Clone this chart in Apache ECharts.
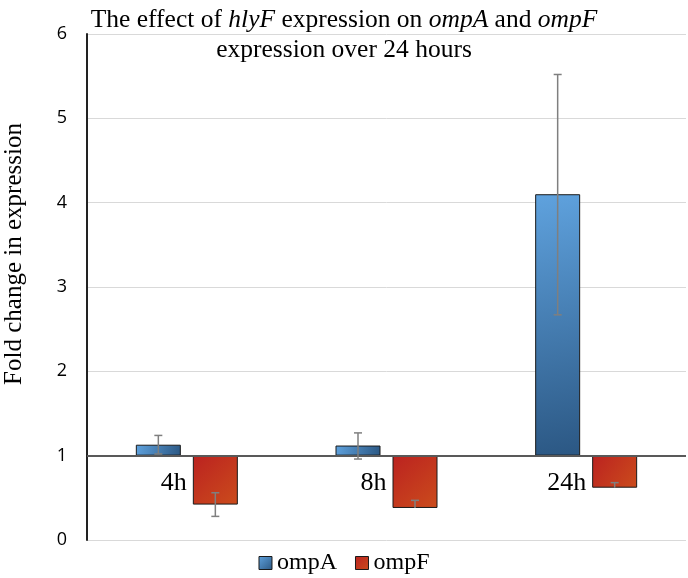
<!DOCTYPE html>
<html>
<head>
<meta charset="utf-8">
<script src="https://cdn.jsdelivr.net/npm/echarts@6/dist/echarts.min.js"></script>
<style>
html,body{margin:0;padding:0;background:#fff;}
#chart{width:688px;height:578px;}
</style>
</head>
<body>
<div id="chart"></div>
<script>
// ---- data ----
const categories = ['4h', '8h', '24h'];
const ompA = [1.13, 1.12, 4.10];
const ompF = [0.42, 0.38, 0.62];
const ompAErrPlus = [0.11, 0.15, 1.42];
const ompAErrMinus = [0.11, 0.16, 1.43];
const ompFErrPlus = [0.14, 0.09, 0.06];
const ompFErrMinus = [0.14, 0, 0];
const baseline = 1;
const yMin = 0, yMax = 6, yInterval = 1;

// ---- styling ----
const BAR_W = 45, BAR_GAP = 12;
const serif = 'Liberation Serif';
const colA = new echarts.graphic.LinearGradient(0, 0, 1, 1, [
  { offset: 0, color: '#5fa2de' }, { offset: 1, color: '#2b5783' }]);
const colF = new echarts.graphic.LinearGradient(0, 0, 1, 1, [
  { offset: 0, color: '#bb2220' }, { offset: 1, color: '#cb4c1c' }]);

function baseOf(arr) { return arr.map(v => Math.min(v, baseline)); }
function diffOf(arr) { return arr.map(v => Math.abs(v - baseline)); }

const errData = [];
categories.forEach((c, i) => {
  errData.push([i, ompA[i] - ompAErrMinus[i], ompA[i] + ompAErrPlus[i], -1, ompAErrMinus[i] > 0 ? 1 : 0]);
  errData.push([i, ompF[i] - ompFErrMinus[i], ompF[i] + ompFErrPlus[i], 1, ompFErrMinus[i] > 0 ? 1 : 0]);
});

const chart = echarts.init(document.getElementById('chart'));
chart.setOption({
  animation: false,
  backgroundColor: '#fff',
  title: {
    left: 'center', top: 0,
    text: '{n|The effect of }{i|hlyF}{n| expression on }{i|ompA}{n| and }{i|ompF}\n{n|expression over 24 hours}',
    textStyle: {
      fontWeight: 'normal',
      rich: {
        n: { fontFamily: serif, fontSize: 25.5, fontWeight: 'normal', color: '#000', lineHeight: 30 },
        i: { fontFamily: serif, fontSize: 25.5, fontWeight: 'normal', fontStyle: 'italic', color: '#000', lineHeight: 30 }
      }
    }
  },
  legend: {
    top: 546, left: 'center', itemWidth: 13, itemHeight: 13, itemGap: 18, icon: 'rect',
    textStyle: { fontFamily: serif, fontSize: 24, color: '#000' },
    data: [
      { name: 'ompA', itemStyle: { color: colA, borderColor: '#1a1a1a', borderWidth: 1 } },
      { name: 'ompF', itemStyle: { color: colF, borderColor: '#1a1a1a', borderWidth: 1 } }
    ]
  },
  grid: { left: 87, right: 2, top: 34, bottom: 38, containLabel: false, outerBoundsMode: 'none' },
  xAxis: {
    type: 'category', data: categories,
    axisLine: { show: false }, axisTick: { show: false }, splitLine: { show: false },
    axisLabel: { margin: -70, align: 'right', fontFamily: serif, fontSize: 26, color: '#000' }
  },
  yAxis: {
    type: 'value', min: yMin, max: yMax, interval: yInterval,
    name: 'Fold change in expression', nameLocation: 'middle', nameGap: 60, nameRotate: 90,
    nameTextStyle: { fontFamily: serif, fontSize: 25, color: '#000', padding: [0, 0, 0, 66] },
    axisLine: { show: true, lineStyle: { color: '#222', width: 2 } },
    axisTick: { show: false },
    axisLabel: { margin: 20, fontFamily: 'Open Sans', fontSize: 18, color: '#000' },
    splitLine: { lineStyle: { color: '#d9d9d9', width: 1 } }
  },
  series: [
    { name: 'baseA', type: 'bar', stack: 'a', barWidth: BAR_W, data: baseOf(ompA),
      itemStyle: { color: 'transparent' }, silent: true },
    { name: 'ompA', type: 'bar', stack: 'a', barWidth: BAR_W, data: diffOf(ompA),
      itemStyle: { color: colA, borderColor: '#1a1a1a', borderWidth: 1 },
      markLine: { silent: true, symbol: 'none', label: { show: false },
        lineStyle: { color: '#595959', width: 2, type: 'solid' }, data: [{ yAxis: baseline }] } },
    { name: 'baseF', type: 'bar', stack: 'f', barWidth: BAR_W, data: baseOf(ompF),
      itemStyle: { color: 'transparent' }, silent: true },
    { name: 'ompF', type: 'bar', stack: 'f', barWidth: BAR_W, barGap: (BAR_GAP / BAR_W * 100) + '%', data: diffOf(ompF),
      itemStyle: { color: colF, borderColor: '#1a1a1a', borderWidth: 1 } },
    { name: 'err', type: 'custom', data: errData, z: 10, silent: true,
      encode: { x: 0, y: [1, 2] },
      renderItem: function (params, api) {
        const i = api.value(0), lo = api.value(1), hi = api.value(2), side = api.value(3), lowCap = api.value(4);
        const off = side * (BAR_W + BAR_GAP) / 2;
        const pHi = api.coord([i, hi]), pLo = api.coord([i, lo]);
        const x = pHi[0] + off, cw = 4;
        const st = { stroke: '#7f7f7f', lineWidth: 1.5 };
        const ch = [
          { type: 'line', shape: { x1: x, y1: pHi[1], x2: x, y2: pLo[1] }, style: st },
          { type: 'line', shape: { x1: x - cw, y1: pHi[1], x2: x + cw, y2: pHi[1] }, style: st }
        ];
        if (lowCap) ch.push({ type: 'line', shape: { x1: x - cw, y1: pLo[1], x2: x + cw, y2: pLo[1] }, style: st });
        return { type: 'group', children: ch };
      }
    }
  ]
});
</script>
</body>
</html>
